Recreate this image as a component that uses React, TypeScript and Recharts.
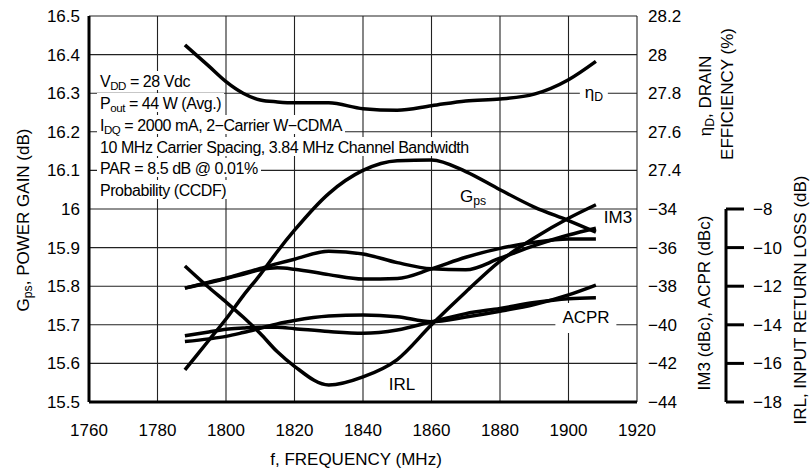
import React from "react";
import { LineChart, Line, XAxis, YAxis, CartesianGrid } from "recharts";

const freq = [1788, 1795, 1800, 1805, 1810, 1815, 1820, 1830, 1840, 1850, 1860, 1870, 1880, 1890, 1900, 1908];
const gps = [15.583, 15.66, 15.715, 15.775, 15.83, 15.89, 15.945, 16.04, 16.1, 16.125, 16.127, 16.097, 16.05, 16.005, 15.97, 15.94];
const drainEff = [28.05, 27.94, 27.86, 27.8, 27.765, 27.755, 27.75, 27.75, 27.72, 27.712, 27.735, 27.76, 27.77, 27.795, 27.87, 27.965];
const im3Upper = [-38.1, -37.79, -37.58, -37.33, -37.08, -36.83, -36.6, -36.19, -36.33, -36.78, -37.1, -37.15, -36.55, -35.9, -35.35, -35.0];
const im3Lower = [-38.1, -37.82, -37.6, -37.38, -37.15, -37.05, -37.12, -37.4, -37.63, -37.6, -37.1, -36.5, -36.04, -35.72, -35.55, -35.55];
const acprUpper = [-40.87, -40.73, -40.6, -40.4, -40.18, -39.95, -39.78, -39.55, -39.49, -39.58, -39.84, -39.6, -39.3, -38.95, -38.45, -37.94];
const acprLower = [-40.57, -40.37, -40.23, -40.17, -40.13, -40.13, -40.2, -40.35, -40.44, -40.27, -39.84, -39.42, -39.15, -38.85, -38.65, -38.6];
const irl = [-10.95, -12.07, -12.82, -13.6, -14.45, -15.4, -16.15, -17.12, -16.7, -15.8, -14.0, -12.3, -10.7, -9.5, -8.48, -7.78];

const xTicks = [1760, 1780, 1800, 1820, 1840, 1860, 1880, 1900, 1920];
const gpsTicks = [15.5, 15.6, 15.7, 15.8, 15.9, 16, 16.1, 16.2, 16.3, 16.4, 16.5];
const effTicks = [27.4, 27.6, 27.8, 28, 28.2];
const dbcTicks = [-44, -42, -40, -38, -36, -34];
const irlTicks = [-18, -16, -14, -12, -10, -8];

const rows = freq.map((f, i) => ({
  f,
  gps: gps[i],
  eff: drainEff[i],
  im3u: im3Upper[i],
  im3l: im3Lower[i],
  acpru: acprUpper[i],
  acprl: acprLower[i],
  irl: irl[i],
}));

const FONT = '"Liberation Sans", Arial, Helvetica, sans-serif';
const W = 811;
const H = 476;
const PLOT_H = 386;
const tickStyle = { fill: "#000", fontSize: 17 };
const minus = (v: number) => String(v).replace("-", "\u2212");

const Sub = ({ children }: { children: React.ReactNode }) => (
  <sub style={{ fontSize: "0.72em", verticalAlign: "-0.28em", lineHeight: 0 }}>{children}</sub>
);

function Note({ x, y, rotate = 0, bg, pad, children }: { x: number; y: number; rotate?: number; bg?: boolean; pad?: string; children: React.ReactNode }) {
  return (
    <div
      style={{
        position: "absolute",
        left: x,
        top: y,
        transform: `translate(-50%, -50%) rotate(${rotate}deg)`,
        whiteSpace: "nowrap",
        fontSize: 17,
        lineHeight: "20px",
        background: bg ? "#fff" : "transparent",
        padding: pad ?? 0,
      }}
    >
      {children}
    </div>
  );
}

const noteLines: React.ReactNode[] = [
  <>V<Sub>DD</Sub> = 28 Vdc</>,
  <>P<Sub>out</Sub> = 44 W (Avg.)</>,
  <>I<Sub>DQ</Sub> = 2000 mA, 2−Carrier W−CDMA</>,
  <>10 MHz Carrier Spacing, 3.84 MHz Channel Bandwidth</>,
  <>PAR = 8.5 dB @ 0.01%</>,
  <>Probability (CCDF)</>,
];

export default function App() {
  const line = { type: "monotone" as const, stroke: "#000", strokeWidth: 3.5, dot: false, isAnimationActive: false };
  return (
    <div style={{ position: "fixed", left: 0, top: 0, width: W, height: H, background: "#fff", fontFamily: FONT, color: "#000" }}>
      <LineChart width={W} height={H} data={rows} margin={{ top: 16, right: 0, bottom: 0, left: 0 }}>
        <CartesianGrid yAxisId="g" stroke="#222" strokeWidth={1.1} />
        <XAxis
          dataKey="f"
          type="number"
          domain={[1760, 1920]}
          ticks={xTicks}
          height={74}
          tick={tickStyle}
          tickLine={false}
          tickSize={6}
          tickMargin={16}
          axisLine={{ stroke: "#000", strokeWidth: 3 }}
        />
        <YAxis
          yAxisId="g"
          domain={[15.5, 16.5]}
          ticks={gpsTicks}
          width={89}
          tick={tickStyle}
          tickLine={false}
          tickSize={0}
          tickMargin={9}
          axisLine={{ stroke: "#000", strokeWidth: 3 }}
        />
        <YAxis
          yAxisId="r1eff"
          orientation="right"
          domain={[26.2, 28.2]}
          ticks={effTicks}
          width={1}
          tick={tickStyle}
          tickLine={false}
          tickSize={0}
          tickMargin={11}
          axisLine={false}
        />
        <YAxis
          yAxisId="r2dbc"
          orientation="right"
          domain={[-44, -24]}
          ticks={dbcTicks}
          width={88}
          tick={tickStyle}
          tickFormatter={minus}
          tickLine={false}
          tickSize={0}
          tickMargin={10}
          axisLine={false}
        />
        <YAxis
          yAxisId="r3irl"
          orientation="right"
          domain={[-18, 2]}
          ticks={irlTicks}
          width={85}
          tick={tickStyle}
          tickFormatter={minus}
          tickSize={18}
          tickMargin={9}
          tickLine={{ stroke: "#000", strokeWidth: 3 }}
          axisLine={{ stroke: "#000", strokeWidth: 3, strokeDasharray: `0 ${PLOT_H / 2} ${PLOT_H / 2}` }}
        />
        <Line yAxisId="r1eff" dataKey="eff" {...line} />
        <Line yAxisId="g" dataKey="gps" {...line} />
        <Line yAxisId="r2dbc" dataKey="im3u" {...line} />
        <Line yAxisId="r2dbc" dataKey="im3l" {...line} />
        <Line yAxisId="r2dbc" dataKey="acpru" {...line} />
        <Line yAxisId="r2dbc" dataKey="acprl" {...line} />
        <Line yAxisId="r3irl" dataKey="irl" {...line} />
      </LineChart>

      <div style={{ position: "absolute", left: 97, top: 70.8, fontSize: 16, letterSpacing: -0.45, lineHeight: "21.9px" }}>
        {noteLines.map((n, i) => (
          <div key={i}>
            <span style={{ background: "#fff", padding: "2px 3px 0" }}>{n}</span>
          </div>
        ))}
      </div>

      <Note x={594} y={93} bg pad="0 5px">η<Sub>D</Sub></Note>
      <Note x={473} y={197}>G<Sub>ps</Sub></Note>
      <Note x={618} y={218}>IM3</Note>
      <Note x={586} y={318} bg pad="5px 7px">ACPR</Note>
      <Note x={402} y={385}>IRL</Note>

      <Note x={24} y={220} rotate={-90}>G<Sub>ps</Sub>, POWER GAIN (dB)</Note>
      <Note x={356} y={460}>f, FREQUENCY (MHz)</Note>
      <Note x={706} y={96} rotate={-90}>η<Sub>D</Sub>, DRAIN</Note>
      <Note x={728} y={94} rotate={-90}>EFFICIENCY (%)</Note>
      <Note x={705} y={303} rotate={-90}>IM3 (dBc), ACPR (dBc)</Note>
      <Note x={801} y={300} rotate={-90}>IRL, INPUT RETURN LOSS (dB)</Note>
    </div>
  );
}
